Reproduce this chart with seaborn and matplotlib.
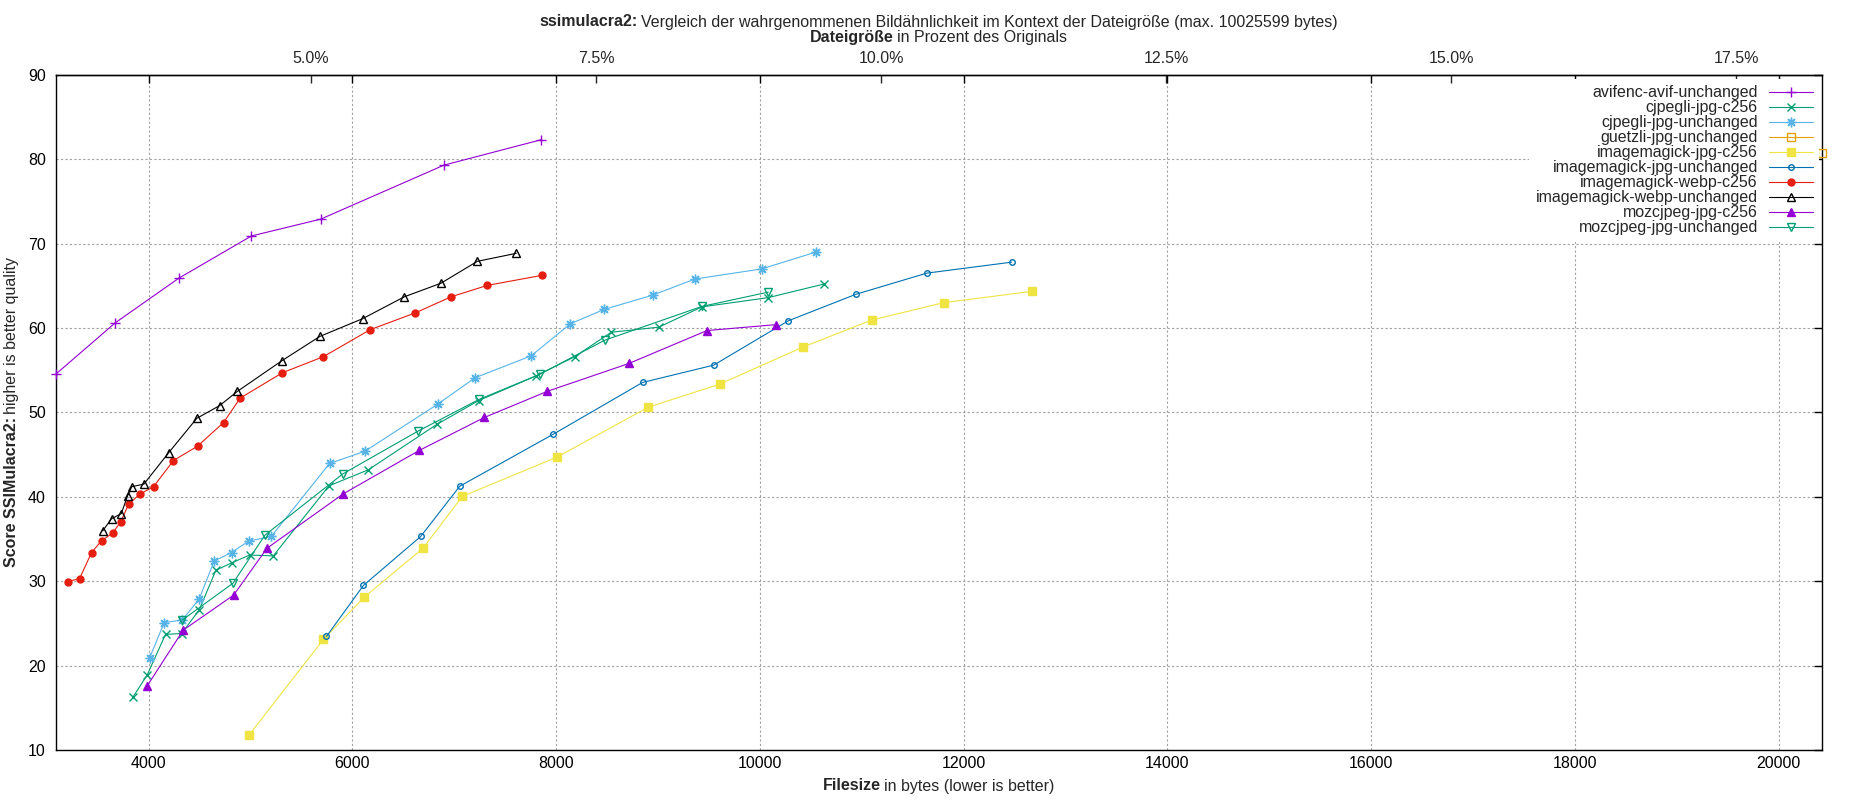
import matplotlib
matplotlib.use("Agg")
from matplotlib import pyplot as plt
import numpy as np
import pandas as pd
import seaborn as sns

# values (bytes, ssimulacra2 score)
ORIG_SIZE = 111900  # bytes that equal 100% on the top axis

avif_x = [3087, 3672, 4297, 5009, 5690, 6900, 7852]
avif_y = [54.5, 60.6, 65.9, 70.9, 72.9, 79.3, 82.3]

cjpegli_c256_x = [3849, 3987, 4167, 4324, 4497, 4661, 4821, 4992, 5224, 5771, 6157, 6832,
                  7240, 7798, 8183, 8542, 9008, 9430, 10082, 10626]
cjpegli_c256_y = [16.3, 18.9, 23.7, 23.8, 26.6, 31.3, 32.2, 33.1, 33.0, 41.3, 43.2, 48.6,
                  51.4, 54.3, 56.6, 59.5, 60.1, 62.5, 63.6, 65.2]

cjpegli_unch_x = [4010, 4154, 4331, 4497, 4645, 4815, 4982, 5204, 5777, 6124, 6841, 7204,
                  7755, 8140, 8470, 8950, 9361, 10017, 10551]
cjpegli_unch_y = [20.9, 25.1, 25.4, 27.9, 32.4, 33.4, 34.75, 35.3, 43.95, 45.4, 51.0, 54.1,
                  56.7, 60.5, 62.2, 63.9, 65.8, 67.0, 69.0]

guetzli_x = [20424]
guetzli_y = [80.7]

im_jpg_c256_x = [4985, 5716, 6117, 6693, 7080, 8008, 8902, 9605, 10424, 11099, 11804, 12675]
im_jpg_c256_y = [11.75, 23.1, 28.1, 33.9, 40.05, 44.7, 50.6, 53.35, 57.75, 60.95, 63.0, 64.35]

im_jpg_unch_x = [5746, 6109, 6671, 7054, 7970, 8849, 9547, 10278, 10943, 11638, 12470]
im_jpg_unch_y = [23.45, 29.5, 35.3, 41.25, 47.4, 53.55, 55.6, 60.85, 64.0, 66.5, 67.8]

im_webp_c256_x = [3205, 3323, 3441, 3539, 3647, 3725, 3804, 3912, 4049, 4245, 4481, 4736,
                  4900, 5314, 5716, 6175, 6620, 6970, 7325, 7866]
im_webp_c256_y = [29.96, 30.3, 33.4, 34.8, 35.7, 37.0, 39.1, 40.3, 41.2, 44.3, 46.0, 48.8,
                  51.7, 54.7, 56.6, 59.8, 61.8, 63.7, 65.05, 66.25]

im_webp_unch_x = [3549, 3637, 3732, 3794, 3836, 3954, 4196, 4474, 4697, 4873, 5306, 5681,
                  6100, 6511, 6869, 7227, 7610]
im_webp_unch_y = [35.95, 37.4, 38.0, 40.1, 41.2, 41.5, 45.2, 49.3, 50.8, 52.5, 56.1, 59.0,
                  61.1, 63.7, 65.3, 67.9, 68.85]

moz_c256_x = [3987, 4340, 4835, 5162, 5911, 6658, 7296, 7914, 8715, 9481, 10160]
moz_c256_y = [17.6, 24.2, 28.35, 33.9, 40.35, 45.5, 49.4, 52.5, 55.8, 59.7, 60.4]

moz_unch_x = [4331, 4828, 5142, 5905, 6640, 7246, 7837, 8476, 9429, 10082]
moz_unch_y = [25.4, 29.75, 35.45, 42.7, 47.75, 51.55, 54.5, 58.55, 62.55, 64.25]

series = [
    ("avifenc-avif-unchanged", avif_x, avif_y),
    ("cjpegli-jpg-c256", cjpegli_c256_x, cjpegli_c256_y),
    ("cjpegli-jpg-unchanged", cjpegli_unch_x, cjpegli_unch_y),
    ("guetzli-jpg-unchanged", guetzli_x, guetzli_y),
    ("imagemagick-jpg-c256", im_jpg_c256_x, im_jpg_c256_y),
    ("imagemagick-jpg-unchanged", im_jpg_unch_x, im_jpg_unch_y),
    ("imagemagick-webp-c256", im_webp_c256_x, im_webp_c256_y),
    ("imagemagick-webp-unchanged", im_webp_unch_x, im_webp_unch_y),
    ("mozcjpeg-jpg-c256", moz_c256_x, moz_c256_y),
    ("mozcjpeg-jpg-unchanged", moz_unch_x, moz_unch_y),
]

# gnuplot-ish styles: color, marker, size, filled
styles = {
    "avifenc-avif-unchanged": ("#9400d3", "+", 7, True),
    "cjpegli-jpg-c256": ("#009e73", "x", 5.5, True),
    "cjpegli-jpg-unchanged": ("#56b4e9", (8, 2, 0), 7, True),
    "guetzli-jpg-unchanged": ("#e69f00", "s", 5.5, False),
    "imagemagick-jpg-c256": ("#f0e442", "s", 5.5, True),
    "imagemagick-jpg-unchanged": ("#0072b2", "o", 4, False),
    "imagemagick-webp-c256": ("#e51e10", "o", 5, True),
    "imagemagick-webp-unchanged": ("#000000", "^", 6, False),
    "mozcjpeg-jpg-c256": ("#9400d3", "^", 6, True),
    "mozcjpeg-jpg-unchanged": ("#009e73", "v", 6, False),
}

sns.set_theme(style="white")
plt.rcParams["font.family"] = ["Liberation Sans", "DejaVu Sans"]
FS = 11.5

fig = plt.figure(figsize=(18.5, 8), dpi=100)
ax = fig.add_axes([0.0300, 0.0625, 0.9549, 0.8440])

for name, xs, ys in series:
    col, mk, ms, filled = styles[name]
    df = pd.DataFrame({"x": xs, "y": ys})
    sns.lineplot(data=df, x="x", y="y", ax=ax, color=col, lw=0.8, marker=mk,
                 markersize=ms, markeredgecolor=col, markeredgewidth=1.0,
                 markerfacecolor=col if filled else "none",
                 sort=False, estimator=None, label=name, clip_on=False, zorder=3)

ax.set_xlim(3087, 20424)
ax.set_ylim(10, 90)
ax.set_xticks(np.arange(4000, 20001, 2000))
ax.set_yticks(np.arange(10, 91, 10))
ax.set_xlabel("")
ax.set_ylabel("")

ax.grid(True, color="#a0a0a0", linestyle=(0, (2, 2)), linewidth=0.8)
ax.set_axisbelow(True)
for sp in ax.spines.values():
    sp.set_color("black")
    sp.set_linewidth(1.0)
ax.tick_params(direction="in", length=6, width=1, colors="black", labelsize=FS,
               top=True, right=True, labeltop=False, labelright=False)
ax.tick_params(axis="y", pad=7)
ax.tick_params(axis="x", pad=4)

sec = ax.secondary_xaxis("top", functions=(lambda b: b / ORIG_SIZE * 100,
                                           lambda p: p * ORIG_SIZE / 100))
sec.set_xticks([5.0, 7.5, 10.0, 12.5, 15.0, 17.5])
sec.set_xticklabels(["5.0%", "7.5%", "10.0%", "12.5%", "15.0%", "17.5%"])
sec.tick_params(direction="in", length=6, width=1, labelsize=FS, pad=6)
sec.spines["top"].set_linewidth(1.0)

leg = ax.legend(loc="upper right", bbox_to_anchor=(0.9985, 0.994), markerfirst=False,
                fontsize=FS, frameon=True, fancybox=False, framealpha=1,
                facecolor="white", edgecolor="none", borderpad=0.4,
                labelspacing=0.0, handlelength=2.75, handletextpad=0.7,
                borderaxespad=0)
leg.set_zorder(5)


def two_part(x, y, bold, rest, rotation=0):
    # bold lead-in followed by normal text, centred on (x, y) in figure pixels
    r = fig.canvas.get_renderer()
    t1 = fig.text(0, 0, bold, fontsize=FS, weight="bold", rotation=rotation,
                  ha="left", va="center", transform=None)
    t2 = fig.text(0, 0, rest, fontsize=FS, rotation=rotation,
                  ha="left", va="center", transform=None)
    gap = 0.2 * FS * fig.dpi / 72
    if rotation == 0:
        w1 = t1.get_window_extent(r).width
        w2 = t2.get_window_extent(r).width
        x0 = x - (w1 + gap + w2) / 2
        t1.set_position((x0, y))
        t2.set_position((x0 + w1 + gap, y))
    else:
        t1.set_ha("center")
        t2.set_ha("center")
        t1.set_va("bottom")
        t2.set_va("bottom")
        h1 = t1.get_window_extent(r).height
        h2 = t2.get_window_extent(r).height
        y0 = y - (h1 + gap + h2) / 2
        t1.set_position((x, y0))
        t2.set_position((x, y0 + h1 + gap))


H = 800
cx = (55.5 + 1822) / 2
two_part(cx, H - 22, "ssimulacra2:",
         "Vergleich der wahrgenommenen Bildähnlichkeit im Kontext der Dateigröße (max. 10025599 bytes)")
two_part(cx, H - 37.5, "Dateigröße", "in Prozent des Originals")
two_part(cx, H - 786, "Filesize", "in bytes (lower is better)")
two_part(12, H - 412, "Score SSIMulacra2:", "higher is better quality", rotation=90)

fig.savefig("out.png", dpi=100)
